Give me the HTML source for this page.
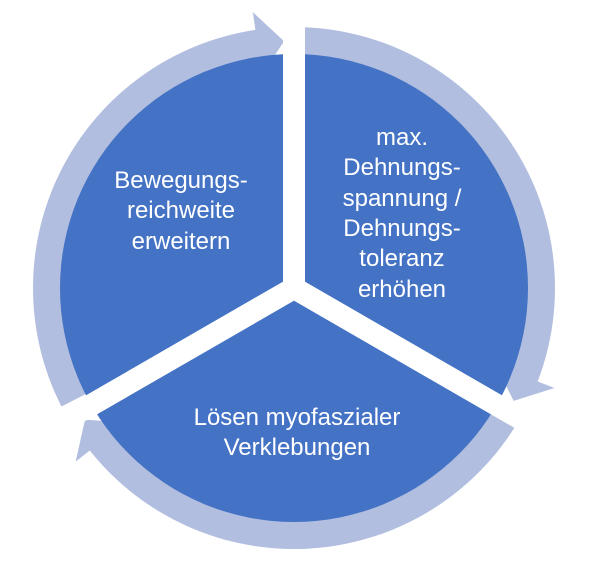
<!DOCTYPE html>
<html><head><meta charset="utf-8"><style>
html,body{margin:0;padding:0;background:#fff;width:602px;height:577px;overflow:hidden}
svg{display:block}
text{font-family:"Liberation Sans",sans-serif;fill:#fff;font-size:24px;text-anchor:middle}
</style></head><body>
<svg id="s" width="602" height="577" viewBox="0 0 602 577">
<g id="ring" fill="#B1BEDF"></g>
<circle cx="294" cy="288" r="234" fill="#4472C4"/>
<g stroke="#fff" stroke-width="22" fill="none">
<line x1="294" y1="288" x2="294" y2="20"/>
<line x1="294" y1="288" x2="60" y2="423"/>
<line x1="294" y1="288" x2="528" y2="423"/>
</g>
<text x="181" y="188">Bewegungs-</text>
<text x="181" y="218">reichweite</text>
<text x="181" y="249">erweitern</text>
<text x="402" y="145">max.</text>
<text x="402" y="175">Dehnungs-</text>
<text x="402" y="206">spannung /</text>
<text x="402" y="236">Dehnungs-</text>
<text x="402" y="266">toleranz</text>
<text x="402" y="297">erhöhen</text>
<text x="297" y="425">Lösen myofaszialer</text>
<text x="297" y="455">Verklebungen</text>
</svg>
<script>
(function(){
var cx=294,cy=288,r1=233,r2=261;
function P(r,t){var a=t*Math.PI/180;return (cx+r*Math.sin(a)).toFixed(2)+","+(cy-r*Math.cos(a)).toFixed(2);}
var g=document.getElementById("ring"),h="";
[[2.2,111,117.2],[122,231.5,237.8],[243,351.5,357.7]].forEach(function(a){
var s=a[0],b=a[1],t=a[2];
var d="M"+P(r1,s)+" L"+P(r2,s)+" A"+r2+","+r2+" 0 0 1 "+P(r2,b)+" L"+P(279,b)+" L"+P(247,t)+" L"+P(216,b)+" L"+P(r1,b)+" A"+r1+","+r1+" 0 0 0 "+P(r1,s)+" Z";
h+='<path d="'+d+'"/>';
});
g.innerHTML=h;
})();
</script>
</body></html>
